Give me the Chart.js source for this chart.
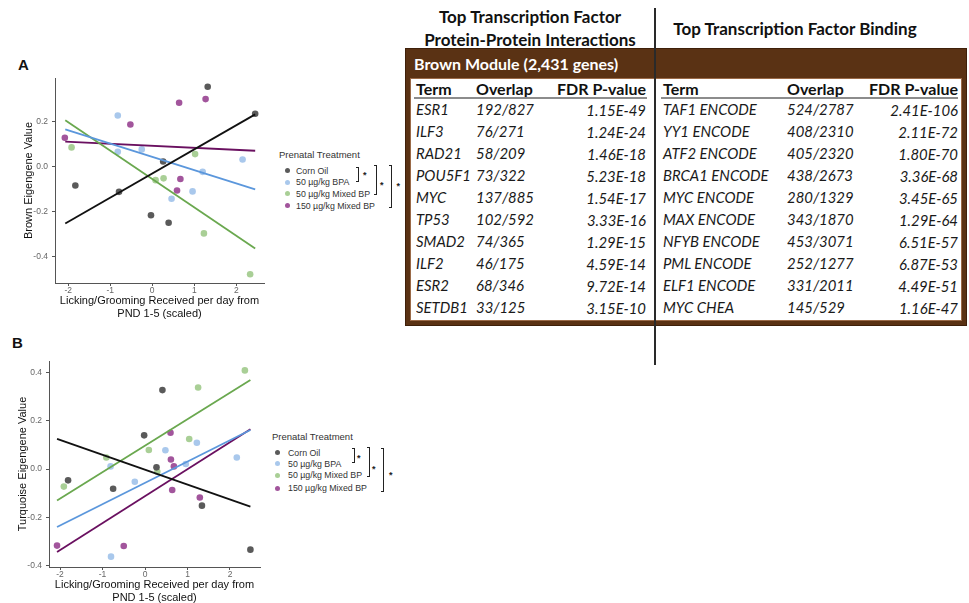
<!DOCTYPE html>
<html>
<head>
<meta charset="utf-8">
<script src="https://cdn.jsdelivr.net/npm/chart.js@4.4.0/dist/chart.umd.min.js"></script>
<style>
  html, body { margin: 0; padding: 0; background: #fff; width: 969px; height: 603px; overflow: hidden; }
  body { position: relative; font-family: "Liberation Sans", Arial, sans-serif; }
  canvas { position: absolute; }
  .tag { position: absolute; font: bold 15px "Liberation Sans", Arial, sans-serif; color: #111; line-height: 16px; }
  .leg-title { position: absolute; font: 9.5px "Liberation Sans", Arial, sans-serif; color: #333; line-height: 12px; white-space: nowrap; }
  .leg-item { position: absolute; font: 8.8px "Liberation Sans", Arial, sans-serif; color: #333; line-height: 12px; white-space: nowrap; }
  .leg-dot { position: absolute; width: 5px; height: 5px; border-radius: 50%; }
  .brk { position: absolute; border: 1.3px solid #222; border-left: none; width: 3px; box-sizing: border-box; }
  .star { position: absolute; font: bold 9px "Liberation Sans", Arial, sans-serif; color: #222; line-height: 10px; }
  .hdr { position: absolute; font: bold 17px Lato, "Open Sans", sans-serif; color: #111; white-space: nowrap; text-align: center; line-height: 20px; }
  .frame { position: absolute; left: 405px; top: 48px; width: 562px; height: 278px; background: #5a3214; box-sizing: border-box; border: 1px solid #3e200a; }
  .inner { position: absolute; left: 410px; top: 78px; width: 552px; height: 243px; background: #fff; box-sizing: border-box; border: 1px solid #9a6a48; }
  .band { position: absolute; left: 414px; top: 53px; font: bold 16px Lato, "Open Sans", sans-serif; color: #fff; line-height: 22px; white-space: nowrap; }
  .cell { position: absolute; font: italic 16px Lato, "Open Sans", sans-serif; color: #1a1a1a; line-height: 22px; height: 22px; white-space: nowrap; transform: scaleX(0.93); transform-origin: left center; }
  .cell.r { transform-origin: right center; }
  .colh { position: absolute; font: bold 16px Lato, "Open Sans", sans-serif; color: #111; line-height: 22px; height: 22px; white-space: nowrap; }
  .rule { position: absolute; height: 2px; background: #8c8c8c; }
  .divider { position: absolute; left: 654px; top: 8px; width: 1.5px; height: 357px; background: #2a2a2a; }
</style>
</head>
<body>
<div class="tag" style="left:18px;top:57px;">A</div>
<div class="tag" style="left:12px;top:335px;">B</div>
<canvas id="brownChart" width="270" height="260" style="left:0;top:60px;"></canvas>
<canvas id="turqChart" width="266" height="259" style="left:0;top:345px;"></canvas>
<div id="legends"></div>
<div id="table"></div>

<script>
// Treatment groups
const groupNames = ["Corn Oil", "50 \u00b5g/kg BPA", "50 \u00b5g/kg Mixed BP", "150 \u00b5g/kg Mixed BP"];
const pointColors = ["#5a5a5a", "#a9c8ec", "#a9cf96", "#a2559c"];
const lineColors = ["#111111", "#5b97dc", "#6aa84f", "#6a1060"];

// Brown module eigengene vs licking/grooming
const brownCornX = [1.32, 2.45, -1.83, -0.79, 0.26, -0.03, 0.39];
const brownCornY = [0.355, 0.235, -0.085, -0.113, 0.022, -0.217, -0.251];
const brownBpaX = [-0.82, -0.82, -0.25, 0.46, 0.96, 1.20, 2.15];
const brownBpaY = [0.227, 0.065, 0.076, -0.144, -0.111, -0.024, 0.031];
const brownMix50X = [-1.92, 0.08, 0.27, 1.02, 1.23, 2.33];
const brownMix50Y = [0.085, -0.061, -0.053, 0.055, -0.298, -0.48];
const brownMix150X = [-2.08, -0.52, 0.64, 1.27, 0.67, 0.59];
const brownMix150Y = [0.128, 0.187, 0.284, 0.30, -0.056, -0.107];
// fitted line ends (x at start/end, y for each group)
const brownFitX = [-2.07, 2.45];
const brownCornFit = [-0.254, 0.232];
const brownBpaFit = [0.165, -0.102];
const brownMix50Fit = [0.206, -0.365];
const brownMix150Fit = [0.111, 0.070];

// Turquoise module eigengene vs licking/grooming
const turqCornX = [0.41, -0.02, -1.81, -0.75, 0.27, 1.34, 2.48];
const turqCornY = [0.328, 0.14, -0.047, -0.082, 0.007, -0.152, -0.335];
const turqBpaX = [-0.81, -0.24, 0.48, 0.96, 1.22, 2.16, -0.80];
const turqBpaY = [0.011, -0.053, 0.078, 0.021, 0.109, 0.048, -0.364];
const turqMix50X = [-1.91, -0.91, 0.09, 0.29, 1.04, 1.25, 2.35];
const turqMix50Y = [-0.073, 0.048, 0.079, -0.011, 0.125, 0.339, 0.41];
const turqMix150X = [-2.07, -0.50, 0.60, 0.61, 0.68, 0.64, 1.29];
const turqMix150Y = [-0.318, -0.32, 0.151, 0.04, 0.011, -0.087, -0.118];
const turqFitX = [-2.07, 2.48];
const turqCornFit = [0.125, -0.156];
const turqBpaFit = [-0.241, 0.162];
const turqMix50Fit = [-0.131, 0.370];
const turqMix150Fit = [-0.345, 0.165];

// Axis ticks
const xTickValues = [-2, -1, 0, 1, 2];
const brownYTicks = [-0.4, -0.2, 0.0, 0.2];
const turqYTicks = [-0.4, -0.2, 0.0, 0.2, 0.4];
const xTitle = ["Licking/Grooming Received per day from", "PND 1-5 (scaled)"];

// Transcription factor tables (brown module)
const ppiTerms = ["ESR1", "ILF3", "RAD21", "POU5F1", "MYC", "TP53", "SMAD2", "ILF2", "ESR2", "SETDB1"];
const ppiOverlap = ["192/827", "76/271", "58/209", "73/322", "137/885", "102/592", "74/365", "46/175", "68/346", "33/125"];
const ppiFdr = ["1.15E-49", "1.24E-24", "1.46E-18", "5.23E-18", "1.54E-17", "3.33E-16", "1.29E-15", "4.59E-14", "9.72E-14", "3.15E-10"];
const tfbTerms = ["TAF1 ENCODE", "YY1 ENCODE", "ATF2 ENCODE", "BRCA1 ENCODE", "MYC ENCODE", "MAX ENCODE", "NFYB ENCODE", "PML ENCODE", "ELF1 ENCODE", "MYC CHEA"];
const tfbOverlap = ["524/2787", "408/2310", "405/2320", "438/2673", "280/1329", "343/1870", "453/3071", "252/1277", "331/2011", "145/529"];
const tfbFdr = ["2.41E-106", "2.11E-72", "1.80E-70", "3.36E-68", "3.45E-65", "1.29E-64", "6.51E-57", "6.87E-53", "4.49E-51", "1.16E-47"];

Chart.defaults.font.family = '"Liberation Sans", Arial, sans-serif';

function toPts(xs, ys) { return xs.map((x, i) => ({ x: x, y: ys[i] })); }

function buildPanel(id, opt) {
  const datasets = [];
  opt.fits.forEach((f, i) => {
    datasets.push({
      label: groupNames[i] + " fit", data: toPts(opt.fitX, f), showLine: true,
      borderColor: lineColors[i], borderWidth: 1.8, pointRadius: 0, fill: false, order: 0
    });
  });
  opt.xs.forEach((xs, i) => {
    datasets.push({
      label: groupNames[i], data: toPts(xs, opt.ys[i]),
      backgroundColor: pointColors[i], borderWidth: 0, pointRadius: 3.3, order: 1
    });
  });
  new Chart(document.getElementById(id), {
    type: 'scatter',
    data: { datasets: datasets },
    options: {
      responsive: false, animation: false, devicePixelRatio: 1,
      layout: { padding: { top: opt.padTop, right: opt.padRight, bottom: 0, left: 0 }, autoPadding: false },
      plugins: { legend: { display: false }, tooltip: { enabled: false } },
      scales: {
        x: {
          type: 'linear', min: opt.xMin, max: opt.xMax,
          afterBuildTicks: s => { s.ticks = xTickValues.map(v => ({ value: v })); },
          afterFit: s => { s.height = 37; },
          grid: { drawOnChartArea: false, drawTicks: true, tickLength: 3, color: '#555', lineWidth: 1 },
          border: { color: '#555', width: 1 },
          ticks: { color: '#666', font: { size: 8.5 }, padding: 0, maxRotation: 0, callback: v => String(v) },
          title: { display: true, text: xTitle, color: '#111', font: { size: 11, lineHeight: 1.14 }, padding: 0 }
        },
        y: {
          type: 'linear', min: opt.yMin, max: opt.yMax,
          afterBuildTicks: s => { s.ticks = opt.yTicks.map(v => ({ value: v })); },
          afterFit: s => { s.width = opt.yWidth; },
          grid: { drawOnChartArea: false, drawTicks: true, tickLength: 3, color: '#555', lineWidth: 1 },
          border: { color: '#555', width: 1 },
          ticks: { color: '#666', font: { size: 8.5 }, padding: 4, callback: v => Number(v).toFixed(1) },
          title: { display: true, text: opt.yTitle, color: '#111', font: { size: 11, lineHeight: 1.14 }, padding: { top: opt.yTitlePad, bottom: 0 } }
        }
      }
    }
  });
}

buildPanel('brownChart', {
  xs: [brownCornX, brownBpaX, brownMix50X, brownMix150X],
  ys: [brownCornY, brownBpaY, brownMix50Y, brownMix150Y],
  fitX: brownFitX, fits: [brownCornFit, brownBpaFit, brownMix50Fit, brownMix150Fit],
  xMin: -2.314, xMax: 2.66, yMin: -0.519, yMax: 0.394, yTicks: brownYTicks,
  yTitle: "Brown Eigengene Value", yWidth: 55, yTitlePad: 23, padTop: 18, padRight: 6
});
buildPanel('turqChart', {
  xs: [turqCornX, turqBpaX, turqMix50X, turqMix150X],
  ys: [turqCornY, turqBpaY, turqMix50Y, turqMix150Y],
  fitX: turqFitX, fits: [turqCornFit, turqBpaFit, turqMix50Fit, turqMix150Fit],
  xMin: -2.259, xMax: 2.706, yMin: -0.407, yMax: 0.449, yTicks: turqYTicks,
  yTitle: "Turquoise Eigengene Value", yWidth: 49, yTitlePad: 16.5, padTop: 16, padRight: 6
});

// Legends with significance brackets
function el(cls, style, text) {
  const d = document.createElement('div');
  d.className = cls;
  Object.assign(d.style, style);
  if (text !== undefined) d.textContent = text;
  return d;
}
function buildLegend(L) {
  const host = document.getElementById('legends');
  host.appendChild(el('leg-title', { left: L.titleX + 'px', top: (L.titleY - 6) + 'px' }, "Prenatal Treatment"));
  groupNames.forEach((name, i) => {
    const cy = L.itemY[i];
    host.appendChild(el('leg-dot', { left: (L.dotX - 2.5) + 'px', top: (cy - 2.5) + 'px', background: pointColors[i] }));
    host.appendChild(el('leg-item', { left: L.textX + 'px', top: (cy - 6) + 'px' }, name));
  });
  L.brackets.forEach(b => {
    host.appendChild(el('brk', { left: (b.x - 3) + 'px', top: b.y1 + 'px', height: (b.y2 - b.y1) + 'px' }));
    host.appendChild(el('star', { left: (b.sx - 3) + 'px', top: (b.sy - 3) + 'px' }, "*"));
  });
}
buildLegend({
  titleX: 279, titleY: 154.5, dotX: 287.5, textX: 296, itemY: [170.5, 182, 193.5, 205.5],
  brackets: [{ x: 358.5, y1: 166.5, y2: 182, sx: 366, sy: 173 },
             { x: 377, y1: 165, y2: 194.5, sx: 383, sy: 183 },
             { x: 392, y1: 165, y2: 207.5, sx: 399.5, sy: 184 }]
});
buildLegend({
  titleX: 272, titleY: 437, dotX: 277.5, textX: 288, itemY: [452.5, 463.5, 475, 488],
  brackets: [{ x: 355, y1: 448, y2: 463, sx: 360, sy: 456 },
             { x: 369.5, y1: 447, y2: 477, sx: 375, sy: 467 },
             { x: 384, y1: 448, y2: 492, sx: 392, sy: 473 }]
});

// Enrichment table
(function buildTable() {
  const host = document.getElementById('table');
  const hdrA = el('hdr', { left: '405px', top: '7px', width: '250px' }, "Top Transcription Factor");
  const hdrB = el('hdr', { left: '405px', top: '30px', width: '250px' }, "Protein-Protein Interactions");
  const hdrC = el('hdr', { left: '660px', top: '19px', width: '270px' }, "Top Transcription Factor Binding");
  [hdrA, hdrB, hdrC].forEach(h => host.appendChild(h));
  host.appendChild(el('frame', {}));
  host.appendChild(el('inner', {}));
  host.appendChild(el('band', {}, "Brown Module (2,431 genes)"));

  const cols = [
    { term: 416, overlap: 476, fdrRight: 646, ruleL: 414, ruleR: 647, terms: ppiTerms, ov: ppiOverlap, fdr: ppiFdr },
    { term: 663, overlap: 787, fdrRight: 958, ruleL: 661, ruleR: 958, terms: tfbTerms, ov: tfbOverlap, fdr: tfbFdr }
  ];
  const headY = 89, firstRowY = 109, rowStep = 22;
  cols.forEach(c => {
    host.appendChild(el('colh', { left: c.term + 'px', top: (headY - 11) + 'px' }, "Term"));
    host.appendChild(el('colh', { left: c.overlap + 'px', top: (headY - 11) + 'px' }, "Overlap"));
    host.appendChild(el('colh', { left: (c.fdrRight - 200) + 'px', top: (headY - 11) + 'px', width: '200px', textAlign: 'right' }, "FDR P-value"));
    host.appendChild(el('rule', { left: c.ruleL + 'px', top: '97px', width: (c.ruleR - c.ruleL) + 'px' }));
    c.terms.forEach((t, i) => {
      const cy = firstRowY + i * rowStep;
      host.appendChild(el('cell', { left: c.term + 'px', top: (cy - 11) + 'px' }, t));
      host.appendChild(el('cell', { left: c.overlap + 'px', top: (cy - 11) + 'px' }, c.ov[i]));
      host.appendChild(el('cell r', { left: (c.fdrRight - 200) + 'px', top: (cy - 10) + 'px', width: '200px', textAlign: 'right' }, c.fdr[i]));
    });
  });
  host.appendChild(el('divider', {}));
})();
</script>
</body>
</html>
